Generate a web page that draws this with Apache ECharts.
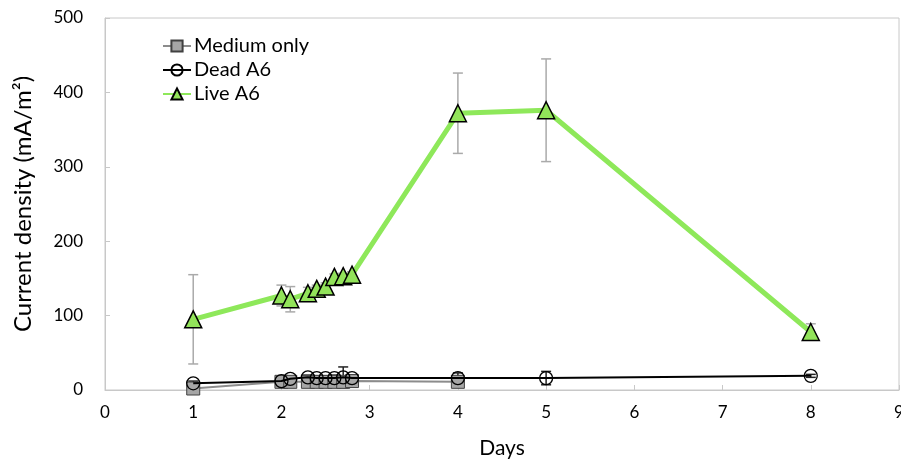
<!DOCTYPE html>
<html>
<head>
<meta charset="utf-8">
<script src="https://cdn.jsdelivr.net/npm/echarts@6/dist/echarts.min.js"></script>
<style>
  html, body { margin: 0; padding: 0; background: #fff; }
  #main { width: 901px; height: 459px; }
</style>
</head>
<body>
<div id="main"></div>
<script>
// data
var days = [1, 2, 2.1, 2.3, 2.4, 2.5, 2.6, 2.7, 2.8, 4, 5, 8];
var daysMedium = [1, 2, 2.1, 2.3, 2.4, 2.5, 2.6, 2.7, 2.8, 4];

var mediumOnly = [2, 11, 11, 11, 11, 11, 11, 11, 12, 11];
var mediumErr = [2, 2, 2, 2, 2, 2, 2, 2, 2, 3];

var deadA6 = [9, 12, 15, 17, 16, 16, 16, 17, 16, 16, 16, 19];
var deadErr = [3, 3, 3, 3, 3, 3, 4, 14, 4, 7, 9, 2];

var liveA6 = [95, 127, 122, 130, 136, 139, 152, 153, 155, 372, 376, 78];
var liveErr = [60, 14, 17, 8, 5, 5, 4, 4, 4, 54, 69, 11];

var fontName = 'Lato';

function pairs(xs, ys) {
    return xs.map(function (x, i) { return [x, ys[i]]; });
}
function errData(xs, ys, es) {
    return xs.map(function (x, i) { return [x, ys[i] - es[i], ys[i] + es[i]]; });
}

// error bar drawn with caps
function errorBar(color) {
    return function (params, api) {
        var lo = api.coord([api.value(0), api.value(1)]);
        var hi = api.coord([api.value(0), api.value(2)]);
        var w = 5;
        var st = { stroke: color, lineWidth: 1.5 };
        return {
            type: 'group',
            children: [
                { type: 'line', shape: { x1: lo[0], y1: lo[1], x2: hi[0], y2: hi[1] }, style: st },
                { type: 'line', shape: { x1: lo[0] - w, y1: lo[1], x2: lo[0] + w, y2: lo[1] }, style: st },
                { type: 'line', shape: { x1: hi[0] - w, y1: hi[1], x2: hi[0] + w, y2: hi[1] }, style: st }
            ]
        };
    };
}

var myChart = echarts.init(document.getElementById('main'));

var option = {
    animation: false,
    backgroundColor: '#fff',
    textStyle: { fontFamily: fontName },
    grid: {
        left: 105, right: 2, top: 18, bottom: 69,
        outerBoundsMode: 'none',
        show: true, borderColor: '#c8c8c8', borderWidth: 1
    },
    legend: {
        orient: 'vertical',
        left: 157, top: 31,
        itemWidth: 28, itemHeight: 14, itemGap: 4,
        textStyle: { fontSize: 20, lineHeight: 20, color: '#000', fontFamily: fontName, padding: [0, 0, 0, -2] },
        data: ['Medium only', 'Dead A6', 'Live A6']
    },
    xAxis: {
        type: 'value', min: 0, max: 9, interval: 1,
        name: 'Days', nameLocation: 'middle', nameGap: 48,
        nameTextStyle: { fontSize: 21, color: '#000' },
        axisLine: { lineStyle: { color: '#c8c8c8' } },
        axisTick: { inside: true, length: 5, lineStyle: { color: '#c8c8c8' } },
        axisLabel: { fontSize: 17, color: '#000', margin: 14 },
        splitLine: { show: false }
    },
    yAxis: {
        type: 'value', min: 0, max: 500, interval: 100,
        name: 'Current density (mA/m²)', nameLocation: 'middle', nameGap: 70,
        nameTextStyle: { fontSize: 24, color: '#000' },
        axisLine: { show: true, lineStyle: { color: '#c8c8c8' } },
        axisTick: { show: true, inside: true, length: 5, lineStyle: { color: '#c8c8c8' } },
        axisLabel: { fontSize: 17, color: '#000', margin: 22 },
        splitLine: { show: false }
    },
    series: [
        {
            type: 'custom', name: 'errMedium', renderItem: errorBar('#888'),
            data: errData(daysMedium, mediumOnly, mediumErr), z: 1, silent: true
        },
        {
            type: 'custom', name: 'errDead', renderItem: errorBar('#222'),
            data: errData(days, deadA6, deadErr), z: 1, silent: true
        },
        {
            type: 'custom', name: 'errLive', renderItem: errorBar('#aaaaaa'),
            data: errData(days, liveA6, liveErr), z: 1, silent: true
        },
        {
            name: 'Medium only', type: 'line',
            data: pairs(daysMedium, mediumOnly),
            symbol: 'rect', symbolSize: 13,
            lineStyle: { color: '#8c8c8c', width: 2 },
            itemStyle: { color: '#a6a6a6', borderColor: '#404040', borderWidth: 1 },
            z: 2
        },
        {
            name: 'Dead A6', type: 'line',
            data: pairs(days, deadA6),
            symbol: 'circle', symbolSize: 13,
            lineStyle: { color: '#000', width: 2 },
            itemStyle: { color: 'rgba(255,255,255,0)', borderColor: '#000', borderWidth: 1.3 },
            z: 3
        },
        {
            name: 'Live A6', type: 'line',
            data: pairs(days, liveA6),
            symbol: 'triangle', symbolSize: 17,
            lineStyle: { color: '#8ee85a', width: 5 },
            itemStyle: { color: '#92e35a', borderColor: '#000', borderWidth: 1.5 },
            z: 4
        }
    ]
};

if (option && typeof option === "object") {
    myChart.setOption(option, true);
}
</script>
</body>
</html>
